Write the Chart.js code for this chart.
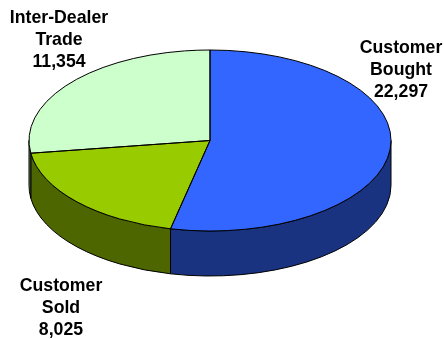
<!DOCTYPE html>
<html>
<head>
<meta charset="utf-8">
<style>
  html, body { margin: 0; padding: 0; background: #fff; }
  canvas { display: block; }
</style>
<script src="https://cdn.jsdelivr.net/npm/chart.js@4/dist/chart.umd.min.js"></script>
</head>
<body>
<canvas id="pieChart" width="444" height="339"></canvas>
<script>
// trade volume by counterparty
var categories = [["Customer", "Bought"], ["Customer", "Sold"], ["Inter-Dealer", "Trade"]];
var volumes = [22297, 8025, 11354];
var topColors = ["#3366FF", "#99CC00", "#CCFFCC"];
var wallColors = ["#1A3380", "#4D6600", "#668066"];

var squash = 0.5;      // tilt of the disc
var discY = 140.5;     // where the top face is centred
var depth = 45;        // thickness of the disc
var labelSpots = [[401, 53], [61, 291], [59, 23]];
var lineGap = 22;

// outline path of one wedge on the tilted top face
function topFace(ctx, arc) {
  var ry = arc.outerRadius * squash;
  ctx.beginPath();
  ctx.moveTo(arc.x, discY);
  ctx.ellipse(arc.x, discY, arc.outerRadius, ry, 0, arc.startAngle, arc.endAngle);
  ctx.closePath();
}

var disc3d = {
  id: 'disc3d',
  // side walls go down first, only the front half of the rim shows
  beforeDatasetsDraw: function (chart) {
    var ctx = chart.ctx;
    var arcs = chart.getDatasetMeta(0).data;
    ctx.save();
    ctx.lineWidth = 1;
    ctx.strokeStyle = '#000';
    arcs.forEach(function (arc, i) {
      var a0 = Math.max(arc.startAngle, 0);
      var a1 = Math.min(arc.endAngle, Math.PI);
      if (a1 <= a0) return;
      var rx = arc.outerRadius, ry = rx * squash;
      ctx.beginPath();
      ctx.ellipse(arc.x, discY, rx, ry, 0, a0, a1);
      ctx.lineTo(arc.x + rx * Math.cos(a1), discY + ry * Math.sin(a1) + depth);
      ctx.ellipse(arc.x, discY + depth, rx, ry, 0, a1, a0, true);
      ctx.closePath();
      ctx.fillStyle = wallColors[i];
      ctx.fill();
      ctx.stroke();
    });
    ctx.restore();

    // the library's own wedges are squeezed into the tilted plane
    ctx.save();
    var c = arcs[0];
    ctx.translate(c.x, discY);
    ctx.scale(1, squash);
    ctx.translate(-c.x, -c.y);
  },
  afterDatasetsDraw: function (chart) {
    var ctx = chart.ctx;
    ctx.restore();
    ctx.save();
    ctx.lineWidth = 1;
    ctx.strokeStyle = '#000';
    chart.getDatasetMeta(0).data.forEach(function (arc) {
      topFace(ctx, arc);
      ctx.stroke();
    });
    ctx.restore();

    // labels: name lines then the value
    ctx.save();
    ctx.font = 'bold 17.7px "Liberation Sans", Arial, sans-serif';
    ctx.fillStyle = '#000';
    ctx.textAlign = 'center';
    ctx.textBaseline = 'alphabetic';
    categories.forEach(function (lines, i) {
      var text = lines.concat(volumes[i].toLocaleString('en-US'));
      text.forEach(function (t, k) {
        ctx.fillText(t, labelSpots[i][0], labelSpots[i][1] + k * lineGap);
      });
    });
    ctx.restore();
  }
};

new Chart(document.getElementById('pieChart').getContext('2d'), {
  type: 'pie',
  data: {
    labels: categories,
    datasets: [{
      data: volumes,
      backgroundColor: topColors,
      borderWidth: 0,
      clip: false
    }]
  },
  options: {
    responsive: false,
    animation: false,
    radius: 181,
    layout: { padding: { right: 24 } },
    plugins: { legend: { display: false }, tooltip: { enabled: false } },
    events: []
  },
  plugins: [disc3d]
});
</script>
</body>
</html>
